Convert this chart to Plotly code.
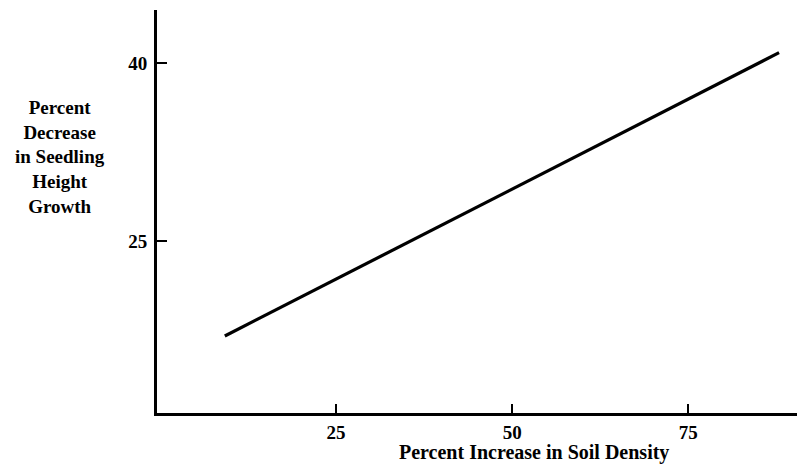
import plotly.graph_objects as go

# Data
soil_density_increase = [9.2, 87.9]      # x: percent increase in soil density
height_growth_decrease = [17.0, 40.9]    # y: percent decrease in seedling height growth
x_ticks = [25, 50, 75]
y_ticks = [25, 40]

FONT = "Liberation Serif"

fig = go.Figure()
fig.add_trace(go.Scatter(
    x=soil_density_increase, y=height_growth_decrease,
    mode="lines", line=dict(color="black", width=3.2),
    hoverinfo="skip", showlegend=False,
))

fig.update_layout(
    width=797, height=458,
    margin=dict(l=149, r=2, t=2, b=53),
    paper_bgcolor="white", plot_bgcolor="white",
    font=dict(family=FONT, color="black", size=19),
    xaxis=dict(
        range=[-0.43, 91.3], tickvals=x_ticks, ticktext=[str(v) for v in x_ticks],
        ticks="inside", ticklen=9, tickwidth=2, tickcolor="black",
        showline=True, linecolor="black", linewidth=2.8, showgrid=False, zeroline=False,
        tickfont=dict(family=FONT, size=19, weight="bold"),
    ),
    yaxis=dict(
        range=[10.5, 44.5], tickvals=y_ticks, ticktext=[str(v) for v in y_ticks],
        ticks="inside", ticklen=10, tickwidth=2, tickcolor="black",
        showline=True, linecolor="black", linewidth=2.8, showgrid=False, zeroline=False,
        tickfont=dict(family=FONT, size=19, weight="bold"), ticklabelstandoff=3,
    ),
)

fig.add_annotation(
    text="<b>Percent<br>Decrease<br>in Seedling<br>Height<br>Growth</b>",
    xref="paper", yref="paper", x=-0.150, y=0.635, xanchor="center", yanchor="middle",
    showarrow=False, align="center", font=dict(family=FONT, size=19, color="black"),
)
fig.add_annotation(
    text="<b>Percent Increase in Soil Density</b>",
    xref="paper", yref="paper", x=0.584, y=-0.097, xanchor="center", yanchor="middle",
    showarrow=False, align="center", font=dict(family=FONT, size=20, color="black"),
)

fig.write_html("out.html")
